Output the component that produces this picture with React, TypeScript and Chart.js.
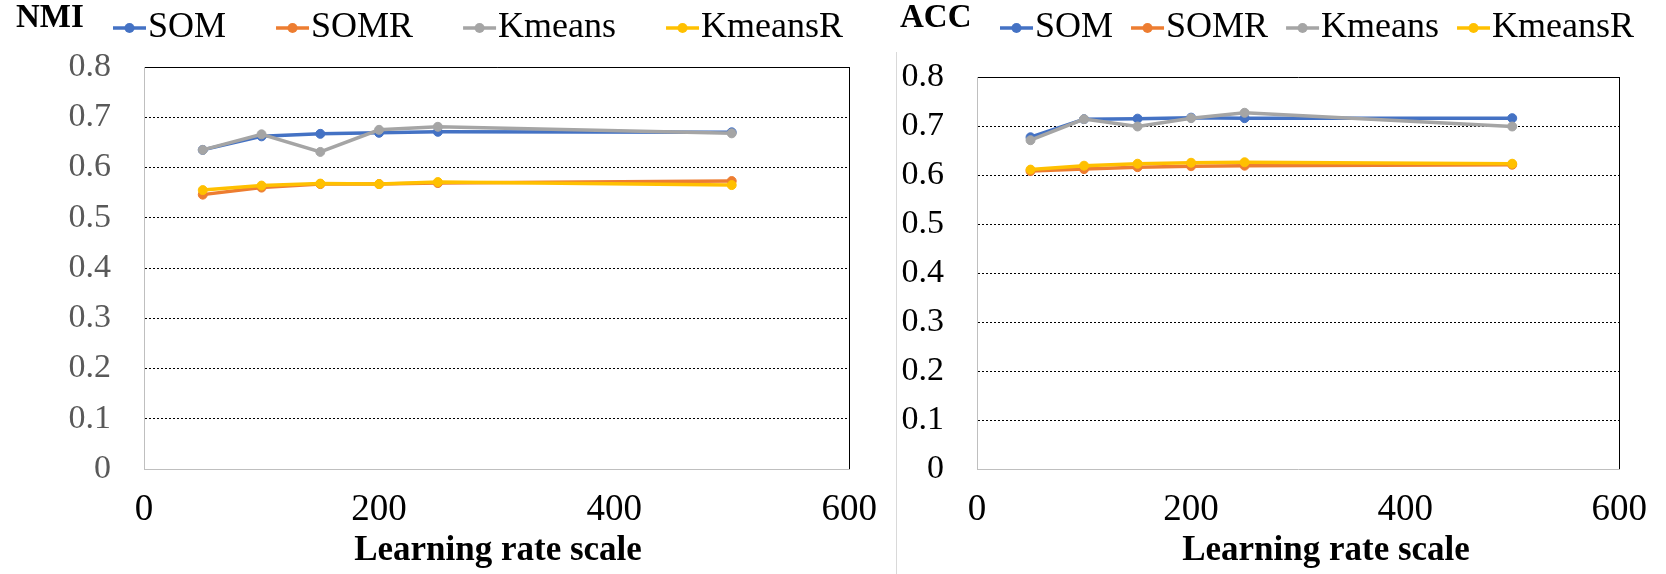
import React, { useEffect, useRef } from "react";
import { Chart, registerables } from "chart.js";

Chart.register(...registerables);

// ---------- data ----------
const learningRates = [50, 100, 150, 200, 250, 500];
const seriesNames = ["SOM", "SOMR", "Kmeans", "KmeansR"];
const seriesColors = ["#4472C4", "#ED7D31", "#A5A5A5", "#FFC000"];

const nmiSOM = [0.635, 0.662, 0.667, 0.669, 0.671, 0.67];
const nmiSOMR = [0.546, 0.56, 0.567, 0.567, 0.569, 0.573];
const nmiKmeans = [0.635, 0.666, 0.631, 0.675, 0.681, 0.668];
const nmiKmeansR = [0.555, 0.564, 0.568, 0.567, 0.571, 0.565];

const accSOM = [0.677, 0.714, 0.715, 0.717, 0.716, 0.716];
const accSOMR = [0.608, 0.612, 0.616, 0.618, 0.619, 0.621];
const accKmeans = [0.671, 0.714, 0.699, 0.716, 0.727, 0.699];
const accKmeansR = [0.611, 0.619, 0.623, 0.625, 0.626, 0.623];

const yTicks = [0, 0.1, 0.2, 0.3, 0.4, 0.5, 0.6, 0.7, 0.8];
const xTicks = [0, 200, 400, 600];
const xTitle = "Learning rate scale";

// ---------- styling ----------
const FONT = '"Liberation Serif"';
const YTICK_SIZE = 34;
const XTICK_SIZE = 37;
const LEGEND_SIZE = 36;
const TITLE_SIZE = 33;
const XTITLE_SIZE = 35;

type PanelProps = {
  title: string;
  series: number[][];
  yTickColor: string;
  width: number;
  height: number;
  plotLeft: number;
  plotTop: number;
  plotRight: number;
  plotBottom: number;
  titleX: number;
  legendX: number;
  legendGap: number;
  xTitleCenter: number;
};

function Panel(p: PanelProps) {
  const ref = useRef<HTMLCanvasElement | null>(null);

  useEffect(() => {
    if (!ref.current) return;
    const datasets = p.series.map((vals, i) => ({
      label: seriesNames[i],
      data: learningRates.map((x, j) => ({ x, y: vals[j] })),
      borderColor: seriesColors[i],
      backgroundColor: seriesColors[i],
      pointBackgroundColor: seriesColors[i],
      pointBorderColor: seriesColors[i],
      borderWidth: 3.5,
      pointRadius: 4.5,
      pointBorderWidth: 1,
      tension: 0,
      clip: false as any,
      order: seriesNames.length - i,
    }));

    const header = {
      id: "header",
      afterDraw(chart: any) {
        const ctx = chart.ctx as CanvasRenderingContext2D;
        ctx.save();
        ctx.textBaseline = "alphabetic";
        ctx.textAlign = "left";
        ctx.fillStyle = "#000";
        ctx.font = `bold ${TITLE_SIZE}px ${FONT}`;
        ctx.fillText(p.title, p.titleX, 27);
        ctx.font = `${LEGEND_SIZE}px ${FONT}`;
        let x = p.legendX;
        const lineY = 28;
        const baseY = 37;
        chart.data.datasets.forEach((ds: any) => {
          ctx.strokeStyle = ds.borderColor;
          ctx.lineWidth = 3.5;
          ctx.beginPath();
          ctx.moveTo(x, lineY);
          ctx.lineTo(x + 33, lineY);
          ctx.stroke();
          ctx.fillStyle = ds.borderColor;
          ctx.beginPath();
          ctx.arc(x + 16.5, lineY, 5, 0, Math.PI * 2);
          ctx.fill();
          ctx.fillStyle = "#000";
          ctx.fillText(ds.label, x + 35, baseY);
          x += 35 + ctx.measureText(ds.label).width + p.legendGap;
        });
        ctx.font = `bold ${XTITLE_SIZE}px ${FONT}`;
        ctx.textAlign = "center";
        ctx.fillText(xTitle, p.xTitleCenter, 560);
        ctx.restore();
      },
    };

    const chart = new Chart(ref.current, {
      type: "line",
      data: { datasets },
      plugins: [header],
      options: {
        animation: false,
        responsive: true,
        maintainAspectRatio: false,
        layout: {
          padding: {
            left: 0,
            top: p.plotTop,
            right: p.width - p.plotRight,
            bottom: 0,
          },
        },
        plugins: {
          legend: { display: false },
          title: { display: false },
          tooltip: { enabled: false },
        },
        scales: {
          x: {
            type: "linear",
            min: 0,
            max: 600,
            afterFit: (s: any) => {
              s.height = p.height - p.plotBottom;
            },
            afterBuildTicks: (s: any) => {
              s.ticks = xTicks.map((v) => ({ value: v }));
            },
            ticks: {
              color: "#000",
              font: { family: FONT, size: XTICK_SIZE },
              padding: 19,
              maxRotation: 0,
              autoSkip: false,
            },
            grid: {
              drawTicks: false,
              lineWidth: 1,
              color: (c: any) =>
                c.tick && c.tick.value === 600 ? "#000000" : "rgba(0,0,0,0)",
            },
            border: { display: true, color: "#BFBFBF", width: 1 },
          },
          y: {
            type: "linear",
            min: 0,
            max: 0.8,
            afterFit: (s: any) => {
              s.width = p.plotLeft;
            },
            afterBuildTicks: (s: any) => {
              s.ticks = yTicks.map((v) => ({ value: v }));
            },
            ticks: {
              color: p.yTickColor,
              font: { family: FONT, size: YTICK_SIZE },
              padding: 33,
              autoSkip: false,
              callback: (v: any) => String(Number(Number(v).toFixed(1))),
            },
            grid: {
              drawTicks: false,
              lineWidth: 1,
              color: (c: any) =>
                c.tick && c.tick.value > 0.05 ? "#000000" : "rgba(0,0,0,0)",
            },
            border: {
              display: true,
              color: "#BFBFBF",
              width: 1,
              dash: (c: any) =>
                c.tick && c.tick.value > 0.05 && c.tick.value < 0.75
                  ? [2, 2]
                  : [],
            } as any,
          },
        },
      } as any,
    });
    return () => chart.destroy();
  }, []);

  return (
    <div style={{ position: "relative", width: p.width, height: p.height }}>
      <canvas ref={ref} />
    </div>
  );
}

export default function App() {
  return (
    <div
      style={{
        position: "absolute",
        left: 0,
        top: 0,
        width: 1666,
        height: 574,
        background: "#fff",
        overflow: "hidden",
      }}
    >
      <div style={{ position: "absolute", left: 0, top: 0 }}>
        <Panel
          title="NMI"
          series={[nmiSOM, nmiSOMR, nmiKmeans, nmiKmeansR]}
          yTickColor="#595959"
          width={896}
          height={574}
          plotLeft={144}
          plotTop={67}
          plotRight={851}
          plotBottom={469}
          titleX={16}
          legendX={113}
          legendGap={50}
          xTitleCenter={498}
        />
      </div>
      <div
        style={{
          position: "absolute",
          left: 896,
          top: 52,
          width: 1,
          height: 522,
          background: "#D9D9D9",
        }}
      />
      <div style={{ position: "absolute", left: 896, top: 0 }}>
        <Panel
          title="ACC"
          series={[accSOM, accSOMR, accKmeans, accKmeansR]}
          yTickColor="#000000"
          width={770}
          height={574}
          plotLeft={81}
          plotTop={77}
          plotRight={736}
          plotBottom={469}
          titleX={4}
          legendX={104}
          legendGap={18}
          xTitleCenter={430}
        />
      </div>
    </div>
  );
}
